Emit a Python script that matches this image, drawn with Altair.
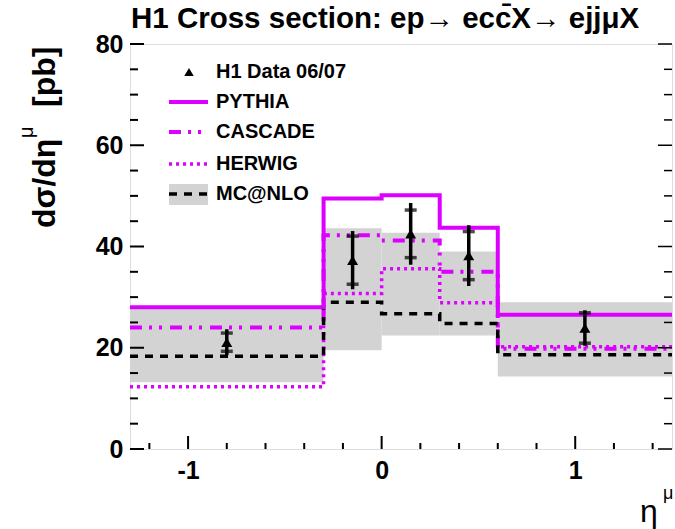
import altair as alt
import pandas as pd

# ---- data ----
bin_edges = [-1.3, -0.3, 0.0, 0.3, 0.6, 1.5]
pythia = [28.0, 49.5, 50.1, 43.7, 26.5]
cascade = [24.0, 42.2, 41.2, 35.0, 19.8]
herwig = [12.3, 30.7, 35.6, 28.9, 20.2]
mcnlo = [18.3, 29.0, 26.7, 24.8, 18.6]
mcnlo_lo = [13.2, 19.5, 22.4, 22.4, 14.3]
mcnlo_hi = [27.8, 43.6, 42.7, 39.0, 29.0]

data_x = [-0.8, -0.15, 0.15, 0.45, 1.05]
data_y = [21.1, 37.3, 42.5, 38.2, 23.9]
data_stat = [1.8, 4.75, 4.7, 4.75, 3.0]
data_tot = [2.55, 5.75, 6.1, 6.0, 3.5]

x_ticks = [-1.2, -1.0, -0.8, -0.6, -0.4, -0.2, 0.0, 0.2, 0.4, 0.6, 0.8, 1.0, 1.2, 1.4]
x_major = [-1, 0, 1]
y_ticks = [0, 5, 10, 15, 20, 25, 30, 35, 40, 45, 50, 55, 60, 65, 70, 75, 80]
y_major = [0, 20, 40, 60, 80]

legend_labels = ["H1 Data 06/07", "PYTHIA", "CASCADE", "HERWIG", "MC@NLO"]

W, H = 542, 405
FONT = "Liberation Sans"
MAG = "#dc00ff"

xscale = alt.Scale(domain=[-1.3, 1.5], nice=False, zero=False)
yscale = alt.Scale(domain=[0, 80], nice=False, zero=False)
xaxis = alt.Axis(values=x_major, ticks=False, domain=False, grid=False,
                 labelFontSize=25, labelFontWeight="bold", labelFont=FONT,
                 labelColor="black", labelPadding=9, title=None, format="d",
                 labelExpr="replace(datum.label, '\u2212', '-')")
yaxis = alt.Axis(values=y_major, ticks=False, domain=False, grid=False,
                 labelFontSize=25, labelFontWeight="bold", labelFont=FONT,
                 labelColor="black", labelPadding=7, title=None)


def X(f):
    return alt.X(f, type="quantitative", scale=xscale, axis=xaxis)


def Y(f):
    return alt.Y(f, type="quantitative", scale=yscale, axis=yaxis)


# band
band_df = pd.DataFrame({"lo": bin_edges[:-1], "hi": bin_edges[1:],
                        "blo": mcnlo_lo, "bhi": mcnlo_hi})
band = alt.Chart(band_df).mark_rect(color="#d3d3d3").encode(
    x=X("lo"), x2="hi", y=Y("blo"), y2="bhi")


def step(vals, color, width, dash=None):
    df = pd.DataFrame({"x": bin_edges, "y": list(vals) + [vals[-1]]})
    kw = dict(color=color, strokeWidth=width, interpolate="step-after", clip=True)
    if dash:
        kw["strokeDash"] = dash
    return alt.Chart(df).mark_line(**kw).encode(x=X("x"), y=Y("y"))


l_herwig = step(herwig, MAG, 3.5, [3, 4])
l_cascade = step(cascade, MAG, 4, [12, 7, 3, 7, 3, 8])
l_mcnlo = step(mcnlo, "black", 3.5, [8, 7])
l_pythia = step(pythia, MAG, 4)

# data points
pts = pd.DataFrame({"x": data_x, "y": data_y, "stat": data_stat, "tot": data_tot})
pts["tlo"] = pts["y"] - pts["tot"]
pts["thi"] = pts["y"] + pts["tot"]
pts["slo"] = pts["y"] - pts["stat"]
pts["shi"] = pts["y"] + pts["stat"]
err = alt.Chart(pts).mark_rule(color="black", strokeWidth=3.5).encode(
    x=X("x"), y=Y("tlo"), y2="thi")
cb1 = alt.Chart(pts).mark_tick(color="black", orient="horizontal", size=12, thickness=3.5).encode(
    x=X("x"), y=Y("slo"))
cb2 = alt.Chart(pts).mark_tick(color="black", orient="horizontal", size=12, thickness=3.5).encode(
    x=X("x"), y=Y("shi"))
mk = alt.Chart(pts).mark_point(shape="triangle-up", filled=True, color="black",
                               size=120, opacity=1).encode(x=X("x"), y=Y("y"))

# inward ticks
xt = pd.DataFrame({"v": x_ticks})
xt["major"] = xt["v"].round(6).isin(x_major)
yt = pd.DataFrame({"v": y_ticks})
yt["major"] = yt["v"].isin(y_major)


def xtick_layer(major, L):
    d = xt[xt["major"] == major]
    return alt.Chart(d).mark_rule(color="black", strokeWidth=2).encode(
        x=X("v"), y=alt.value(H), y2=alt.value(H - L))


def ytick_layer(major, L, side):
    d = yt[yt["major"] == major]
    if side == "left":
        return alt.Chart(d).mark_rule(color="black", strokeWidth=2).encode(
            y=Y("v"), x=alt.value(0), x2=alt.value(L))
    return alt.Chart(d).mark_rule(color="black", strokeWidth=1.5).encode(
        y=Y("v"), x=alt.value(W), x2=alt.value(W - L))


ticks = [xtick_layer(True, 13), xtick_layer(False, 6),
         ytick_layer(True, 14, "left"), ytick_layer(False, 8, "left"),
         ytick_layer(True, 14, "right"), ytick_layer(False, 8, "right")]

one = pd.DataFrame({"a": [0]})


def txt(s, x, y, size, weight="bold", align="left", baseline="alphabetic", angle=0):
    kw = dict(font=FONT, fontSize=size, fontWeight=weight, align=align,
              baseline=baseline, color="black")
    if angle:
        kw["angle"] = angle
    return alt.Chart(one).mark_text(**kw).encode(
        x=alt.value(x), y=alt.value(y), text=alt.value(s))


# legend
leg_y = [28, 58, 88, 120, 150]
leg = []
leg.append(alt.Chart(one).mark_rect(color="#d3d3d3").encode(
    x=alt.value(39), x2=alt.value(78), y=alt.value(leg_y[4] - 10), y2=alt.value(leg_y[4] + 11)))
leg.append(alt.Chart(one).mark_point(shape="triangle-up", filled=True, color="black",
                                     size=90, opacity=1).encode(x=alt.value(59), y=alt.value(leg_y[0])))
leg.append(alt.Chart(one).mark_rule(color=MAG, strokeWidth=4).encode(
    x=alt.value(39), x2=alt.value(78), y=alt.value(leg_y[1])))
leg.append(alt.Chart(one).mark_rule(color=MAG, strokeWidth=4, strokeDash=[12, 7, 3, 7, 3, 8]).encode(
    x=alt.value(39), x2=alt.value(78), y=alt.value(leg_y[2])))
leg.append(alt.Chart(one).mark_rule(color=MAG, strokeWidth=3.5, strokeDash=[3, 4]).encode(
    x=alt.value(39), x2=alt.value(78), y=alt.value(leg_y[3])))
leg.append(alt.Chart(one).mark_rule(color="black", strokeWidth=3.5, strokeDash=[8, 7]).encode(
    x=alt.value(39), x2=alt.value(78), y=alt.value(leg_y[4])))
for lab, yy in zip(legend_labels, leg_y):
    leg.append(txt(lab, 86, yy, 20, baseline="middle"))

# titles
texts = [
    txt("H1 Cross section: ep\u2192 ecc\u0304X\u2192 ejj\u03bcX", 1, -16, 29.5),
    txt("d\u03c3/d\u03b7", -75, 184, 32, angle=270),
    txt("\u03bc", -97, 94, 20, weight="normal", angle=270),
    txt("[pb]", -75, 63, 32, angle=270),
    txt("\u03b7", 510, 478, 32, weight="normal"),
    txt("\u03bc", 533, 455, 18, weight="normal"),
]

chart = alt.layer(band, l_herwig, l_cascade, l_mcnlo, l_pythia, err, cb1, cb2, mk,
                  *ticks, *leg, *texts).properties(
    width=W, height=H, autosize="none",
    padding={"left": 130, "top": 44, "right": 3, "bottom": 80},
).configure_view(stroke="black", strokeWidth=2).configure(background="white")

chart.save("out.html", embed_options={"renderer": "svg", "actions": False})
